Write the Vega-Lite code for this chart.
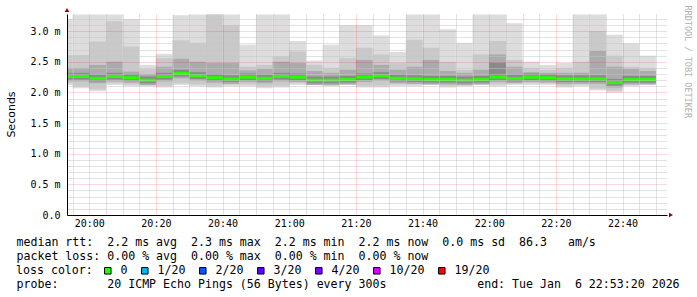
{
  "$schema": "https://vega.github.io/schema/vega-lite/v6.json",
  "width": 600,
  "height": 201,
  "autosize": {"type": "none"},
  "padding": {"left": 67, "top": 14, "right": 30, "bottom": 82},
  "background": "#ffffff",
  "config": {"view": {"stroke": null}, "font": "DejaVu Sans Mono"},
  "data": {"values": [
    {"t0": "2026-01-06T19:53:20Z", "t1": "2026-01-06T19:55:00Z", "mx": 3.20, "u2": 2.61, "u3": 2.40, "u4": 2.32, "md": 2.26, "l4": 2.21, "l3": 2.18, "l2": 2.15, "mn": 2.12, "loss": "0"},
    {"t0": "2026-01-06T19:55:00Z", "t1": "2026-01-06T20:00:00Z", "mx": 3.27, "u2": 2.61, "u3": 2.40, "u4": 2.32, "md": 2.26, "l4": 2.21, "l3": 2.18, "l2": 2.10, "mn": 2.07, "loss": "0"},
    {"t0": "2026-01-06T20:00:00Z", "t1": "2026-01-06T20:05:00Z", "mx": 3.27, "u2": 2.83, "u3": 2.45, "u4": 2.29, "md": 2.23, "l4": 2.18, "l3": 2.15, "l2": 2.05, "mn": 2.02, "loss": "0"},
    {"t0": "2026-01-06T20:05:00Z", "t1": "2026-01-06T20:10:00Z", "mx": 3.27, "u2": 3.16, "u3": 2.50, "u4": 2.32, "md": 2.26, "l4": 2.21, "l3": 2.18, "l2": 2.15, "mn": 2.12, "loss": "0"},
    {"t0": "2026-01-06T20:10:00Z", "t1": "2026-01-06T20:15:00Z", "mx": 3.20, "u2": 2.75, "u3": 2.34, "u4": 2.30, "md": 2.24, "l4": 2.19, "l3": 2.16, "l2": 2.13, "mn": 2.10, "loss": "0"},
    {"t0": "2026-01-06T20:15:00Z", "t1": "2026-01-06T20:20:00Z", "mx": 2.45, "u2": 2.38, "u3": 2.30, "u4": 2.26, "md": 2.20, "l4": 2.15, "l3": 2.12, "l2": 2.13, "mn": 2.10, "loss": "0"},
    {"t0": "2026-01-06T20:20:00Z", "t1": "2026-01-06T20:25:00Z", "mx": 2.63, "u2": 2.56, "u3": 2.42, "u4": 2.32, "md": 2.26, "l4": 2.21, "l3": 2.18, "l2": 2.11, "mn": 2.08, "loss": "0"},
    {"t0": "2026-01-06T20:25:00Z", "t1": "2026-01-06T20:30:00Z", "mx": 3.26, "u2": 2.85, "u3": 2.55, "u4": 2.37, "md": 2.31, "l4": 2.26, "l3": 2.23, "l2": 2.15, "mn": 2.12, "loss": "0"},
    {"t0": "2026-01-06T20:30:00Z", "t1": "2026-01-06T20:35:00Z", "mx": 3.27, "u2": 2.81, "u3": 2.50, "u4": 2.33, "md": 2.27, "l4": 2.22, "l3": 2.19, "l2": 2.13, "mn": 2.10, "loss": "0"},
    {"t0": "2026-01-06T20:35:00Z", "t1": "2026-01-06T20:40:00Z", "mx": 3.27, "u2": 3.27, "u3": 2.48, "u4": 2.30, "md": 2.24, "l4": 2.19, "l3": 2.16, "l2": 2.11, "mn": 2.08, "loss": "0"},
    {"t0": "2026-01-06T20:40:00Z", "t1": "2026-01-06T20:45:00Z", "mx": 3.27, "u2": 3.10, "u3": 2.48, "u4": 2.28, "md": 2.22, "l4": 2.17, "l3": 2.14, "l2": 2.13, "mn": 2.10, "loss": "0"},
    {"t0": "2026-01-06T20:45:00Z", "t1": "2026-01-06T20:50:00Z", "mx": 2.78, "u2": 2.42, "u3": 2.36, "u4": 2.31, "md": 2.25, "l4": 2.20, "l3": 2.17, "l2": 2.13, "mn": 2.10, "loss": "0"},
    {"t0": "2026-01-06T20:50:00Z", "t1": "2026-01-06T20:55:00Z", "mx": 3.27, "u2": 2.45, "u3": 2.38, "u4": 2.29, "md": 2.23, "l4": 2.18, "l3": 2.15, "l2": 2.10, "mn": 2.07, "loss": "0"},
    {"t0": "2026-01-06T20:55:00Z", "t1": "2026-01-06T21:00:00Z", "mx": 3.27, "u2": 2.59, "u3": 2.50, "u4": 2.32, "md": 2.26, "l4": 2.21, "l3": 2.18, "l2": 2.11, "mn": 2.08, "loss": "0"},
    {"t0": "2026-01-06T21:00:00Z", "t1": "2026-01-06T21:05:00Z", "mx": 2.84, "u2": 2.67, "u3": 2.48, "u4": 2.31, "md": 2.25, "l4": 2.20, "l3": 2.17, "l2": 2.15, "mn": 2.12, "loss": "0"},
    {"t0": "2026-01-06T21:05:00Z", "t1": "2026-01-06T21:10:00Z", "mx": 2.52, "u2": 2.45, "u3": 2.35, "u4": 2.26, "md": 2.20, "l4": 2.15, "l3": 2.12, "l2": 2.15, "mn": 2.12, "loss": "0"},
    {"t0": "2026-01-06T21:10:00Z", "t1": "2026-01-06T21:15:00Z", "mx": 2.78, "u2": 2.40, "u3": 2.32, "u4": 2.26, "md": 2.20, "l4": 2.15, "l3": 2.12, "l2": 2.13, "mn": 2.10, "loss": "0"},
    {"t0": "2026-01-06T21:15:00Z", "t1": "2026-01-06T21:20:00Z", "mx": 3.10, "u2": 2.56, "u3": 2.37, "u4": 2.27, "md": 2.21, "l4": 2.16, "l3": 2.13, "l2": 2.15, "mn": 2.12, "loss": "0"},
    {"t0": "2026-01-06T21:20:00Z", "t1": "2026-01-06T21:25:00Z", "mx": 3.10, "u2": 2.73, "u3": 2.53, "u4": 2.31, "md": 2.25, "l4": 2.20, "l3": 2.17, "l2": 2.11, "mn": 2.08, "loss": "0"},
    {"t0": "2026-01-06T21:25:00Z", "t1": "2026-01-06T21:30:00Z", "mx": 2.93, "u2": 2.62, "u3": 2.45, "u4": 2.33, "md": 2.27, "l4": 2.22, "l3": 2.19, "l2": 2.11, "mn": 2.08, "loss": "0"},
    {"t0": "2026-01-06T21:30:00Z", "t1": "2026-01-06T21:35:00Z", "mx": 2.66, "u2": 2.48, "u3": 2.37, "u4": 2.29, "md": 2.23, "l4": 2.18, "l3": 2.15, "l2": 2.13, "mn": 2.10, "loss": "0"},
    {"t0": "2026-01-06T21:35:00Z", "t1": "2026-01-06T21:40:00Z", "mx": 3.27, "u2": 2.86, "u3": 2.42, "u4": 2.28, "md": 2.22, "l4": 2.17, "l3": 2.14, "l2": 2.13, "mn": 2.10, "loss": "0"},
    {"t0": "2026-01-06T21:40:00Z", "t1": "2026-01-06T21:45:00Z", "mx": 3.27, "u2": 2.73, "u3": 2.53, "u4": 2.27, "md": 2.21, "l4": 2.16, "l3": 2.13, "l2": 2.15, "mn": 2.12, "loss": "0"},
    {"t0": "2026-01-06T21:45:00Z", "t1": "2026-01-06T21:50:00Z", "mx": 3.03, "u2": 2.50, "u3": 2.35, "u4": 2.27, "md": 2.21, "l4": 2.16, "l3": 2.13, "l2": 2.11, "mn": 2.08, "loss": "0"},
    {"t0": "2026-01-06T21:50:00Z", "t1": "2026-01-06T21:55:00Z", "mx": 2.81, "u2": 2.37, "u3": 2.32, "u4": 2.26, "md": 2.20, "l4": 2.15, "l3": 2.12, "l2": 2.13, "mn": 2.10, "loss": "0"},
    {"t0": "2026-01-06T21:55:00Z", "t1": "2026-01-06T22:00:00Z", "mx": 3.27, "u2": 2.62, "u3": 2.37, "u4": 2.27, "md": 2.21, "l4": 2.16, "l3": 2.13, "l2": 2.15, "mn": 2.12, "loss": "0"},
    {"t0": "2026-01-06T22:00:00Z", "t1": "2026-01-06T22:05:00Z", "mx": 3.27, "u2": 2.84, "u3": 2.62, "u4": 2.48, "md": 2.25, "l4": 2.20, "l3": 2.17, "l2": 2.13, "mn": 2.10, "loss": "0"},
    {"t0": "2026-01-06T22:05:00Z", "t1": "2026-01-06T22:10:00Z", "mx": 3.13, "u2": 2.53, "u3": 2.42, "u4": 2.29, "md": 2.23, "l4": 2.18, "l3": 2.15, "l2": 2.15, "mn": 2.12, "loss": "0"},
    {"t0": "2026-01-06T22:10:00Z", "t1": "2026-01-06T22:15:00Z", "mx": 2.50, "u2": 2.40, "u3": 2.33, "u4": 2.31, "md": 2.25, "l4": 2.20, "l3": 2.17, "l2": 2.15, "mn": 2.12, "loss": "0"},
    {"t0": "2026-01-06T22:15:00Z", "t1": "2026-01-06T22:20:00Z", "mx": 2.45, "u2": 2.37, "u3": 2.32, "u4": 2.30, "md": 2.24, "l4": 2.19, "l3": 2.16, "l2": 2.15, "mn": 2.12, "loss": "0"},
    {"t0": "2026-01-06T22:20:00Z", "t1": "2026-01-06T22:25:00Z", "mx": 2.48, "u2": 2.40, "u3": 2.32, "u4": 2.28, "md": 2.22, "l4": 2.17, "l3": 2.14, "l2": 2.11, "mn": 2.08, "loss": "0"},
    {"t0": "2026-01-06T22:25:00Z", "t1": "2026-01-06T22:30:00Z", "mx": 3.27, "u2": 2.50, "u3": 2.32, "u4": 2.28, "md": 2.22, "l4": 2.17, "l3": 2.14, "l2": 2.13, "mn": 2.10, "loss": "0"},
    {"t0": "2026-01-06T22:30:00Z", "t1": "2026-01-06T22:35:00Z", "mx": 3.27, "u2": 3.00, "u3": 2.68, "u4": 2.28, "md": 2.22, "l4": 2.17, "l3": 2.14, "l2": 2.06, "mn": 2.03, "loss": "0"},
    {"t0": "2026-01-06T22:35:00Z", "t1": "2026-01-06T22:40:00Z", "mx": 2.94, "u2": 2.60, "u3": 2.42, "u4": 2.22, "md": 2.16, "l4": 2.11, "l3": 2.08, "l2": 2.03, "mn": 2.00, "loss": "0"},
    {"t0": "2026-01-06T22:40:00Z", "t1": "2026-01-06T22:45:00Z", "mx": 2.80, "u2": 2.42, "u3": 2.38, "u4": 2.27, "md": 2.21, "l4": 2.16, "l3": 2.13, "l2": 2.13, "mn": 2.10, "loss": "0"},
    {"t0": "2026-01-06T22:45:00Z", "t1": "2026-01-06T22:50:00Z", "mx": 2.60, "u2": 2.40, "u3": 2.35, "u4": 2.27, "md": 2.21, "l4": 2.16, "l3": 2.13, "l2": 2.15, "mn": 2.12, "loss": "0"}
  ]},
  "resolve": {"axis": {"x": "independent", "y": "independent"}},
  "layer": [
    {
      "mark": {"type": "rect", "color": "#dddddd"},
      "encoding": {
        "x": {"field": "t0", "type": "temporal",
          "scale": {"type": "utc", "domain": [1767729200000, 1767740000000]},
          "axis": {"orient": "bottom", "values": [1767729600000, 1767730800000, 1767732000000, 1767733200000, 1767734400000, 1767735600000, 1767736800000, 1767738000000, 1767739200000], "format": "%H:%M",
            "grid": true, "gridColor": "#ff0000", "gridOpacity": 0.3, "gridDash": [1, 1], "gridWidth": 1,
            "domain": true, "domainColor": "#000000", "domainWidth": 1, "ticks": false,
            "labelFont": "DejaVu Sans Mono", "labelFontSize": 10, "labelColor": "#000000", "labelPadding": 3, "labelFlush": false, "labelOverlap": false,
            "zindex": 2,
            "title": ["median\u00a0rtt:\u00a0\u00a02.2\u00a0ms\u00a0avg\u00a0\u00a02.3\u00a0ms\u00a0max\u00a0\u00a02.2\u00a0ms\u00a0min\u00a0\u00a02.2\u00a0ms\u00a0now\u00a0\u00a00.0\u00a0ms\u00a0sd\u00a0\u00a086.3\u00a0\u00a0\u00a0am/s", "packet\u00a0loss:\u00a00.00\u00a0%\u00a0avg\u00a0\u00a00.00\u00a0%\u00a0max\u00a0\u00a00.00\u00a0%\u00a0min\u00a0\u00a00.00\u00a0%\u00a0now"],
            "titleFont": "DejaVu Sans Mono", "titleFontSize": 11.6, "titleFontWeight": "normal", "titleColor": "#000000",
            "titleAnchor": "start", "titleAlign": "left", "titleBaseline": "alphabetic", "titleX": -51, "titleY": 30, "titleLineHeight": 14}},
        "x2": {"field": "t1"},
        "y": {"field": "mn", "type": "quantitative",
          "scale": {"domain": [0, 3.28], "nice": false, "zero": true},
          "axis": {"orient": "left", "values": [0, 0.5, 1, 1.5, 2, 2.5, 3],
            "labelExpr": "datum.value == 0 ? '0.0' : format(datum.value, '.1f') + ' m'",
            "grid": true, "gridColor": "#ff0000", "gridOpacity": 0.3, "gridDash": [1, 1], "gridWidth": 1,
            "domain": true, "domainColor": "#000000", "domainWidth": 1, "ticks": false,
            "labelFont": "DejaVu Sans Mono", "labelFontSize": 10, "labelColor": "#000000", "labelPadding": 7, "labelFlush": false, "labelOverlap": false, "labelBaseline": "middle",
            "zindex": 2,
            "title": "Seconds", "titleFont": "DejaVu Sans", "titleFontSize": 11, "titleFontWeight": "normal", "titleColor": "#000000",
            "titleAngle": -90, "titleX": -56, "titleY": 100, "titleAlign": "center", "titleBaseline": "middle"}},
        "y2": {"field": "mx"}
      }
    },
    {
      "mark": {"type": "rect", "color": "#c9c9c9"},
      "encoding": {
        "x": {"field": "t0", "type": "temporal",
          "axis": {"orient": "bottom", "values": [1767729300000, 1767729900000, 1767730200000, 1767730500000, 1767731100000, 1767731400000, 1767731700000, 1767732300000, 1767732600000, 1767732900000, 1767733500000, 1767733800000, 1767734100000, 1767734700000, 1767735000000, 1767735300000, 1767735900000, 1767736200000, 1767736500000, 1767737100000, 1767737400000, 1767737700000, 1767738300000, 1767738600000, 1767738900000, 1767739500000, 1767739800000],
            "grid": true, "gridColor": "#c4c4c4", "gridOpacity": 1, "gridDash": [1, 1], "gridWidth": 1,
            "domain": false, "ticks": false, "labels": false, "zindex": 1, "title": null}},
        "x2": {"field": "t1"},
        "y": {"field": "l2", "type": "quantitative",
          "axis": {"orient": "left", "values": [0.1, 0.2, 0.3, 0.4, 0.6, 0.7, 0.8, 0.9, 1.1, 1.2, 1.3, 1.4, 1.6, 1.7, 1.8, 1.9, 2.1, 2.2, 2.3, 2.4, 2.6, 2.7, 2.8, 2.9, 3.1, 3.2],
            "grid": true, "gridColor": "#c4c4c4", "gridOpacity": 1, "gridDash": [1, 1], "gridWidth": 1,
            "domain": false, "ticks": false, "labels": false, "zindex": 1, "title": null}},
        "y2": {"field": "u2"}
      }
    },
    {
      "mark": {"type": "rect", "color": "#ababab"},
      "encoding": {
        "x": {"field": "t0", "type": "temporal", "axis": null},
        "x2": {"field": "t1"},
        "y": {"field": "l3", "type": "quantitative",
          "axis": {"orient": "right", "domain": false, "ticks": false, "labels": false, "grid": false,
            "title": "RRDTOOL / TOBI OETIKER", "titleFont": "DejaVu Sans Mono", "titleFontSize": 8.5, "titleFontWeight": "normal", "titleColor": "#b0b0b0",
            "titleAngle": 90, "titleX": 20, "titleY": -9, "titleAlign": "left", "titleBaseline": "middle"}},
        "y2": {"field": "u3"}
      }
    },
    {
      "mark": {"type": "rect", "color": "#8a8a8a"},
      "encoding": {
        "x": {"field": "t0", "type": "temporal",
          "axis": {"orient": "bottom", "domain": false, "ticks": false, "labels": false, "grid": false,
            "title": "probe:\u00a0\u00a0\u00a0\u00a0\u00a0\u00a0\u00a020\u00a0ICMP\u00a0Echo\u00a0Pings\u00a0(56\u00a0Bytes)\u00a0every\u00a0300s\u00a0\u00a0\u00a0\u00a0\u00a0\u00a0\u00a0\u00a0\u00a0\u00a0\u00a0\u00a0\u00a0end:\u00a0Tue\u00a0Jan\u00a0\u00a06\u00a022:53:20\u00a02026",
            "titleFont": "DejaVu Sans Mono", "titleFontSize": 11.6, "titleFontWeight": "normal", "titleColor": "#000000",
            "titleAnchor": "start", "titleAlign": "left", "titleBaseline": "alphabetic", "titleX": -51, "titleY": 72}},
        "x2": {"field": "t1"},
        "y": {"field": "l4", "type": "quantitative", "axis": null},
        "y2": {"field": "u4"}
      }
    },
    {
      "mark": {"type": "rule", "strokeWidth": 3},
      "encoding": {
        "x": {"field": "t0", "type": "temporal", "axis": null},
        "x2": {"field": "t1"},
        "y": {"field": "md", "type": "quantitative", "axis": null},
        "stroke": {"field": "loss", "type": "nominal",
          "scale": {"range": ["#26ff00", "#00b8ff", "#0059ff", "#5e00ff", "#7e00ff", "#dd00ff", "#ff0000"]},
          "legend": null}
      }
    },
    {
      "data": {"values": [{"loss": "0"}, {"loss": "1/20"}, {"loss": "2/20"}, {"loss": "3/20"}, {"loss": "4/20"}, {"loss": "10/20"}, {"loss": "19/20"}]},
      "mark": {"type": "square", "opacity": 0, "size": 1},
      "encoding": {
        "fill": {"field": "loss", "type": "nominal",
          "scale": {"domain": ["0", "1/20", "2/20", "3/20", "4/20", "10/20", "19/20"], "range": ["#26ff00", "#00b8ff", "#0059ff", "#5e00ff", "#7e00ff", "#dd00ff", "#ff0000"]},
          "legend": {"orient": "none", "legendX": -51, "legendY": 251, "direction": "horizontal", "columns": 7, "gridAlign": "none",
            "title": "loss\u00a0color:", "titleOrient": "left", "titlePadding": 9, "titleFont": "DejaVu Sans Mono", "titleFontSize": 11.6, "titleFontWeight": "normal", "titleColor": "#000000", "titleBaseline": "middle",
            "labelFont": "DejaVu Sans Mono", "labelFontSize": 11.6, "labelColor": "#000000", "labelOffset": 7, "columnPadding": 11, "padding": 0,
            "symbolType": "square", "symbolSize": 42, "symbolStrokeWidth": 1, "symbolStrokeColor": "#000000", "symbolOpacity": 1}}
      }
    },
    {
      "data": {"values": [{"arrow": "y"}]},
      "mark": {"type": "point", "shape": "triangle-up", "filled": true, "color": "#990000", "size": 22, "opacity": 1, "yOffset": -4},
      "encoding": {
        "x": {"datum": 1767729200000, "type": "temporal", "axis": null},
        "y": {"datum": 3.28, "type": "quantitative", "axis": null}
      }
    },
    {
      "data": {"values": [{"arrow": "x"}]},
      "mark": {"type": "point", "shape": "triangle-right", "filled": true, "color": "#990000", "size": 22, "opacity": 1, "xOffset": 4},
      "encoding": {
        "x": {"datum": 1767740000000, "type": "temporal", "axis": null},
        "y": {"datum": 0, "type": "quantitative", "axis": null}
      }
    }
  ]
}
